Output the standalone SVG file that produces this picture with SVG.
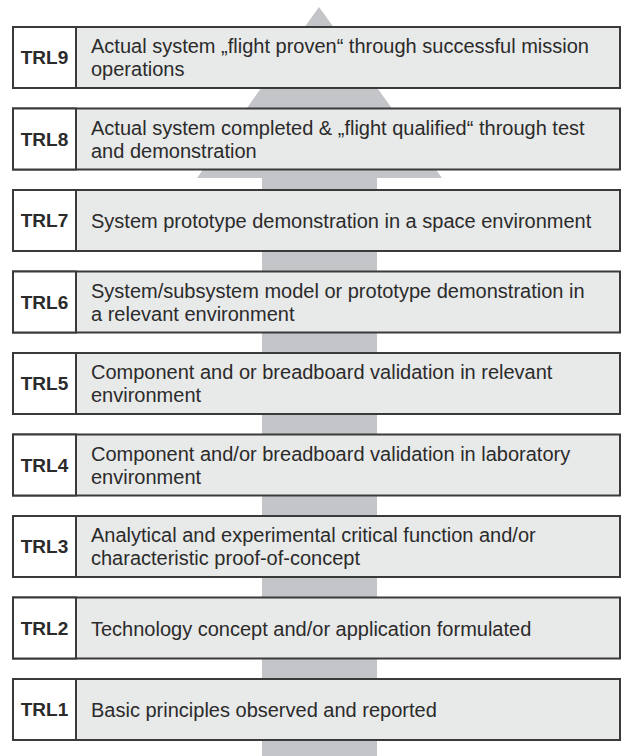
<svg xmlns="http://www.w3.org/2000/svg" width="622" height="756" viewBox="0 0 622 756">
<style>
.box{fill:#e8e9e9;stroke:#3a3a3a;stroke-width:2}
.lab{fill:#ffffff;stroke:#3a3a3a;stroke-width:2}
.t{font-family:"Liberation Sans",Arial,sans-serif;font-size:20px;fill:#2b2b2b}
.k{font-family:"Liberation Sans",Arial,sans-serif;font-size:19px;font-weight:bold;fill:#2b2b2b;text-anchor:middle}
</style>
<rect width="622" height="756" fill="#ffffff"/>
<g id="arrow">
<polygon points="319,7 442,178 377,178 377,756 262,756 262,178 197,178" fill="#c4c5c8"/>
</g>
<g id="trl9"><rect class="box" x="13" y="27" width="607" height="61"/><rect class="lab" x="13" y="27" width="63" height="61"/><text class="k" x="44.5" y="64">TRL9</text><text class="t" x="91" y="53">Actual system „flight proven“ through successful mission</text><text class="t" x="91" y="76">operations</text></g>
<g id="trl8"><rect class="box" x="13" y="108.5" width="607" height="61"/><rect class="lab" x="13" y="108.5" width="63" height="61"/><text class="k" x="44.5" y="145.5">TRL8</text><text class="t" x="91" y="134.5">Actual system completed &amp; „flight qualified“ through test</text><text class="t" x="91" y="157.5">and demonstration</text></g>
<g id="trl7"><rect class="box" x="13" y="190" width="607" height="61"/><rect class="lab" x="13" y="190" width="63" height="61"/><text class="k" x="44.5" y="227">TRL7</text><text class="t" x="91" y="228">System prototype demonstration in a space environment</text></g>
<g id="trl6"><rect class="box" x="13" y="271.5" width="607" height="61"/><rect class="lab" x="13" y="271.5" width="63" height="61"/><text class="k" x="44.5" y="308.5">TRL6</text><text class="t" x="91" y="297.5">System/subsystem model or prototype demonstration in</text><text class="t" x="91" y="320.5">a relevant environment</text></g>
<g id="trl5"><rect class="box" x="13" y="353" width="607" height="61"/><rect class="lab" x="13" y="353" width="63" height="61"/><text class="k" x="44.5" y="390">TRL5</text><text class="t" x="91" y="379">Component and or breadboard validation in relevant</text><text class="t" x="91" y="402">environment</text></g>
<g id="trl4"><rect class="box" x="13" y="434.5" width="607" height="61"/><rect class="lab" x="13" y="434.5" width="63" height="61"/><text class="k" x="44.5" y="471.5">TRL4</text><text class="t" x="91" y="460.5">Component and/or breadboard validation in laboratory</text><text class="t" x="91" y="483.5">environment</text></g>
<g id="trl3"><rect class="box" x="13" y="516" width="607" height="61"/><rect class="lab" x="13" y="516" width="63" height="61"/><text class="k" x="44.5" y="553">TRL3</text><text class="t" x="91" y="542">Analytical and experimental critical function and/or</text><text class="t" x="91" y="565">characteristic proof-of-concept</text></g>
<g id="trl2"><rect class="box" x="13" y="597.5" width="607" height="61"/><rect class="lab" x="13" y="597.5" width="63" height="61"/><text class="k" x="44.5" y="634.5">TRL2</text><text class="t" x="91" y="635.5">Technology concept and/or application formulated</text></g>
<g id="trl1"><rect class="box" x="13" y="679" width="607" height="61"/><rect class="lab" x="13" y="679" width="63" height="61"/><text class="k" x="44.5" y="716">TRL1</text><text class="t" x="91" y="717">Basic principles observed and reported</text></g>
</svg>
